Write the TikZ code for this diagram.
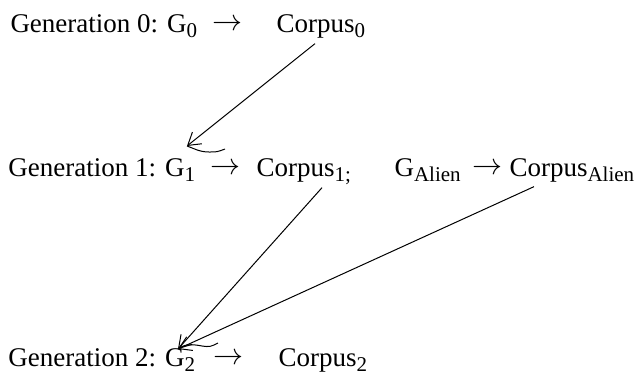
\documentclass[tikz,border=0pt]{standalone}
\usepackage{fontspec}
\setmainfont{Liberation Serif}
\usetikzlibrary{arrows.meta, positioning, calc}
\newcommand{\lowsub}[1]{\raisebox{-0.22em}{\fontsize{21}{21}\selectfont #1}}
\newcommand{\arr}{\raisebox{0.05em}{\resizebox{30pt}{!}{$\rightarrow$}}}
\tikzset{
  every picture/.style={line width=1pt},
  lbl/.style={font=\fontsize{27}{30}\selectfont, inner sep=0pt, anchor=base west},
  link/.style={-{Straight Barb[length=12pt, width=15pt]}, draw=black},
  curl/.style={draw=black, line width=1pt},
}
\begin{document}
\begin{tikzpicture}[x=1pt, y=-1pt]
  \useasboundingbox (0,0) rectangle (640,378);
  % generation 0
  \node[lbl] (gen0) at (10,32) {Generation 0: G\lowsub{0}};
  \node[lbl] (to0) at (212,32) {\arr};
  \node[lbl] (corpus0) at (276,32) {Corpus\lowsub{0}};
  % generation 1
  \node[lbl] (gen1) at (8,176) {Generation 1: G\lowsub{1}};
  \node[lbl] (to1) at (210,176) {\arr};
  \node[lbl] (corpus1) at (256,176) {Corpus\lowsub{1;}};
  \node[lbl] (galien) at (394,176) {G\lowsub{Alien}};
  \node[lbl] (toalien) at (472,176) {\arr};
  \node[lbl] (corpusalien) at (509,176) {Corpus\lowsub{Alien}};
  % generation 2
  \node[lbl] (gen2) at (8,366) {Generation 2: G\lowsub{2}};
  \node[lbl] (to2) at (213,366) {\arr};
  \node[lbl] (corpus2) at (278,366) {Corpus\lowsub{2}};
  % arrow ends on the G's
  \coordinate (tip1) at (187,146);
  \coordinate (tip2) at (178,349);
  \draw[link] ($(corpus0.south west)+(39,5)$) -- (tip1);
  \draw[link] ($(corpus1.south west)+(66,2)$) -- (tip2);
  \draw[link] ($(corpusalien.south west)+(25,4)$) -- (tip2);
  \draw[curl, shift={(tip1)}] (0,0) .. controls (6,2) and (12,6) .. (22,6) .. controls (30,6) .. (38,3);
  \draw[curl, shift={(tip2)}] (0,0) .. controls (6,-5) and (14,-5) .. (24,-3) .. controls (32,-2) .. (40,-6);
\end{tikzpicture}
\end{document}
